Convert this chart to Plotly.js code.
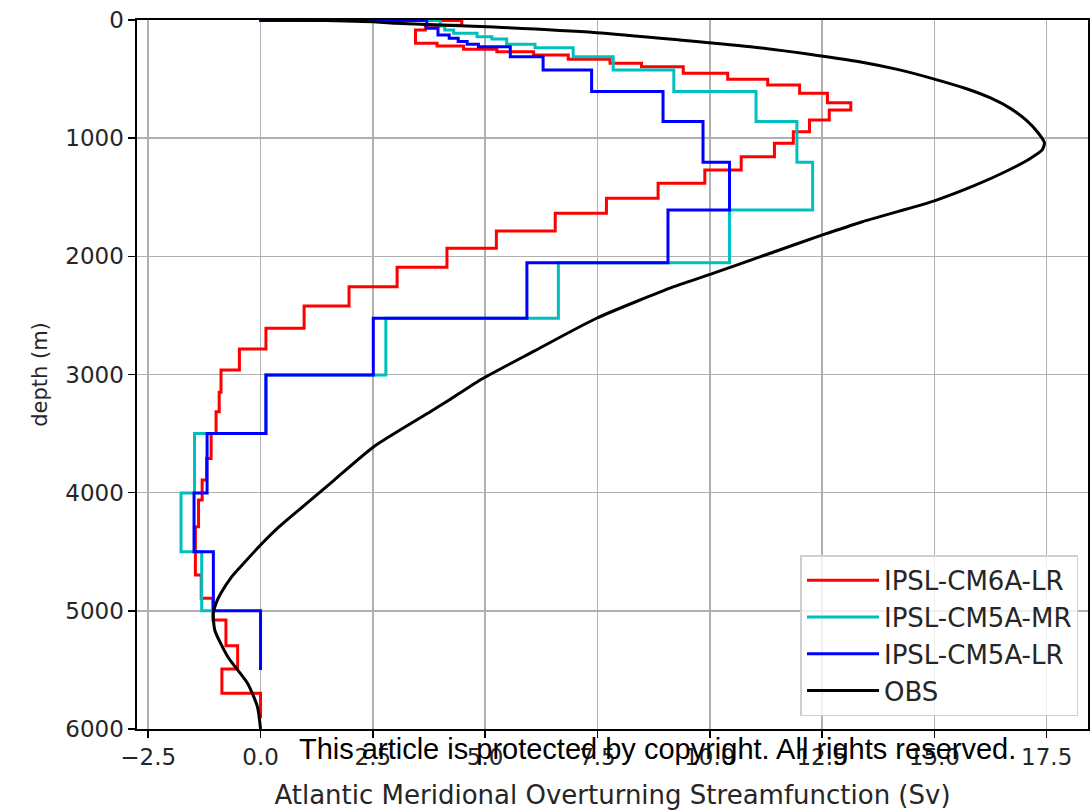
<!DOCTYPE html>
<html>
<head>
<meta charset="utf-8">
<script src="https://cdn.plot.ly/plotly-3.0.1.min.js"></script>
<style>html,body{margin:0;padding:0;background:#fff;}#chart{width:1091px;height:812px;}</style>
</head>
<body>
<div id="chart"></div>
<script>
// Step profiles: value over the layer starting at the given depth (m)
const cm6lrDepth = [0, 4, 45, 85, 197, 220, 248, 268, 296, 333, 365, 395, 451, 502, 550, 620, 700, 762, 846, 945, 1044, 1157, 1269, 1382, 1509, 1636, 1786, 1932, 2093, 2257, 2420, 2609, 2784, 2962, 3150, 3315, 3500, 3710, 3893, 4062, 4288, 4697, 4894, 5077, 5295, 5492, 5698, 5910];
const cm6lrSv    = [0, 4.48, 3.67, 3.45, 3.93, 4.52, 5.26, 6.08, 6.85, 7.78, 8.48, 9.41, 10.40, 11.29, 12.0, 12.62, 13.14, 12.66, 12.22, 11.86, 11.44, 10.70, 9.89, 8.85, 7.70, 6.56, 5.25, 4.15, 3.04, 1.97, 0.97, 0.12, -0.47, -0.88, -0.92, -0.99, -1.10, -1.20, -1.30, -1.38, -1.45, -1.32, -1.06, -0.77, -0.51, -0.86, 0.0, 0.0];

const cm5mrDepth = [0, 4, 50, 85, 113, 141, 161, 206, 234, 310, 423, 606, 860, 1204, 1608, 2054, 2525, 3004, 3500, 4003, 4500, 5000];
const cm5mrSv    = [0, 4.0, 4.1, 4.3, 4.82, 5.15, 5.48, 6.11, 6.96, 7.85, 9.20, 11.03, 11.94, 12.29, 10.44, 6.63, 2.79, 0.12, -1.47, -1.77, -1.31, -1.05];

const cm5lrDepth = [0, 4, 70, 127, 155, 183, 206, 226, 310, 423, 606, 860, 1204, 1608, 2054, 2525, 3004, 3500, 4003, 4500, 5000, 5500];
const cm5lrSv    = [0, 3.70, 3.95, 4.2, 4.4, 4.6, 4.85, 5.56, 6.29, 7.37, 8.96, 9.85, 10.44, 9.07, 5.93, 2.51, 0.12, -1.19, -1.48, -1.05, 0.0, 0.0];

const obsDepth = [0, 3, 8, 15, 28, 60, 107, 169, 230, 300, 353, 420, 500, 580, 660, 750, 850, 950, 1040, 1100, 1180, 1280, 1400, 1530, 1620, 1707, 1819, 1980, 2144, 2257, 2524, 2800, 3046, 3216, 3315, 3611, 3893, 4100, 4300, 4443, 4600, 4711, 4850, 4936, 5021, 5162, 5388, 5613, 5811, 6000];
const obsSv    = [0, 1.0, 1.9, 2.5, 3.0, 5.2, 7.48, 9.33, 11.0, 12.4, 13.33, 14.2, 15.0, 15.7, 16.25, 16.7, 17.05, 17.3, 17.45, 17.4, 17.1, 16.6, 15.9, 15.0, 14.2, 13.4, 12.51, 11.3, 10.07, 9.2, 7.48, 6.1, 4.89, 4.2, 3.78, 2.52, 1.64, 1.0, 0.38, 0.0, -0.38, -0.64, -0.88, -0.99, -1.05, -1.02, -0.73, -0.29, -0.07, 0.0];

const seriesNames = ['IPSL-CM6A-LR', 'IPSL-CM5A-MR', 'IPSL-CM5A-LR', 'OBS'];
const xTickVals = [-2.5, 0, 2.5, 5, 7.5, 10, 12.5, 15, 17.5];
const yTickVals = [0, 1000, 2000, 3000, 4000, 5000, 6000];

const font = 'DejaVu Sans, sans-serif';
function stepTrace(name, xs, ys, color) {
  return {x: xs, y: ys, name: name, type: 'scatter', mode: 'lines',
          line: {color: color, width: 3, shape: 'vh'}};
}
const traces = [
  stepTrace(seriesNames[0], cm6lrSv, cm6lrDepth, '#ff0000'),
  stepTrace(seriesNames[1], cm5mrSv, cm5mrDepth, '#00bfbf'),
  stepTrace(seriesNames[2], cm5lrSv, cm5lrDepth, '#0000ff'),
  {x: obsSv, y: obsDepth, name: seriesNames[3], type: 'scatter', mode: 'lines',
   line: {color: '#000000', width: 3, shape: 'spline', smoothing: 0.6}}
];
const layout = {
  width: 1091, height: 812,
  margin: {l: 137, r: 3, t: 20, b: 83},
  paper_bgcolor: '#fff', plot_bgcolor: '#fff',
  showlegend: true,
  font: {family: font, size: 23, color: '#262626'},
  xaxis: {
    range: [-2.75, 18.42], tickvals: xTickVals, tickformat: '.1f',
    ticks: 'outside', ticklen: 7, tickwidth: 1.5, tickcolor: '#000',
    showline: true, linecolor: '#000', linewidth: 1.6, mirror: true,
    showgrid: true, gridcolor: '#b0b0b0', gridwidth: 1.5, zeroline: false,
    tickfont: {family: font, size: 23, color: '#262626'},
    title: {text: 'Atlantic Meridional Overturning Streamfunction (Sv)', font: {family: font, size: 26, color: '#262626'}, standoff: 16}
  },
  yaxis: {
    range: [6000, 0], tickvals: yTickVals,
    ticks: 'outside', ticklen: 7, tickwidth: 1.5, tickcolor: '#000',
    showline: true, linecolor: '#000', linewidth: 1.6, mirror: true,
    showgrid: true, gridcolor: '#b0b0b0', gridwidth: 1.5, zeroline: false,
    tickfont: {family: font, size: 23, color: '#262626'},
    title: {text: 'depth (m)', font: {family: font, size: 21, color: '#262626'}, standoff: 12}
  },
  legend: {
    x: 0.99, y: 0.018, xanchor: 'right', yanchor: 'bottom',
    bgcolor: 'rgba(255,255,255,0.8)', bordercolor: '#d0d0d0', borderwidth: 1.5,
    font: {family: font, size: 26, color: '#262626'},
    tracegroupgap: 0, itemwidth: 72
  },
  annotations: [{
    text: 'This article is protected by copyright. All rights reserved.',
    xref: 'paper', yref: 'paper', x: 0.547, y: -0.028, xanchor: 'center', yanchor: 'middle',
    showarrow: false, font: {family: 'Liberation Sans, Arial, sans-serif', size: 29, color: '#000'}
  }]
};
Plotly.newPlot('chart', traces, layout, {displayModeBar: false, staticPlot: true});
</script>
</body>
</html>
